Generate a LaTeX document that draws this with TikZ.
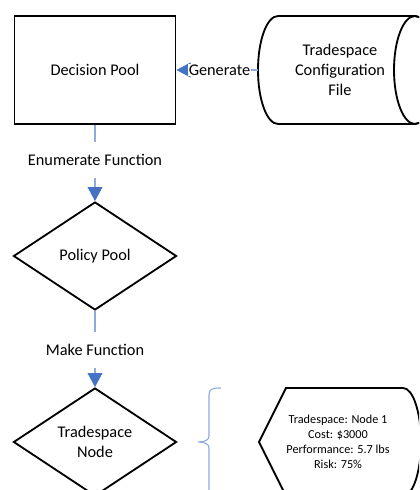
\documentclass[tikz,border=0pt]{standalone}
\usepackage{fontspec}
\setmainfont{Carlito}
\usetikzlibrary{shapes.geometric,arrows.meta}
\definecolor{linkblue}{RGB}{68,114,196}
\definecolor{lineblue}{RGB}{143,170,220}

\begin{document}
\begin{tikzpicture}
[
	x=0.025cm, y=-0.025cm,
	outline/.style = {draw=black, line width=1.3pt},
	bigtext/.style = {font=\fontsize{11.6}{14.2}\selectfont},
	pool/.style = {outline, bigtext, rectangle, minimum width=4.025cm, minimum height=2.7cm},
	choice/.style = {outline, bigtext, diamond, align=center, inner sep=0pt, minimum width=4.075cm, minimum height=2.7cm},
	func/.style = {bigtext, fill=white, minimum height=0.9cm, inner xsep=1pt},
	link/.style = {draw=lineblue, line width=0.8pt},
	linkarrow/.style = {link, -{Triangle[length=10pt,width=10.5pt,color=linkblue]}},
]
\useasboundingbox (0,0) rectangle (419,490);
\clip (0,0) rectangle (419,490);

\node[pool] (decision) at (95,70) {Decision Pool};

% configuration file drum
\draw[outline] (278,16) arc[x radius=20, y radius=54, start angle=-90, end angle=-270]
	-- (415,124) arc[x radius=21, y radius=54, start angle=90, end angle=-90] -- cycle;
\draw[outline] (415,70) ellipse[x radius=21, y radius=54];
\node[bigtext, align=center, minimum width=4.1cm] (config) at (340,70) {Tradespace\\Configuration\\File};

\node[choice] (policy) at (95,256) {Policy Pool};
\node[choice] (trade) at (95,442) {Tradespace\\Node};

\node[func] (enum) at (95,160) {Enumerate Function};
\node[func] (make) at (95,350) {Make Function};

\draw[linkarrow] (config.west) -- (decision.east)
	node[pos=0.47, bigtext, fill=white, inner sep=0.5pt] {Generate};
\draw[link] (decision) -- (enum);
\draw[linkarrow] (enum) -- (policy);
\draw[link] (policy) -- (make);
\draw[linkarrow] (make) -- (trade);

% brace and node details
\draw[link] (221,388) .. controls (212,388) and (209,389) .. (209,395) -- (209,436)
	.. controls (209,440) and (205,442) .. (198,442)
	.. controls (205,442) and (209,444) .. (209,448) -- (209,492);
\draw[outline] (259,442) -- (286,388) -- (403,388)
	arc[x radius=18, y radius=54, start angle=-90, end angle=90] -- (286,496) -- cycle;
\node[align=center, font=\fontsize{8.7}{10.7}\selectfont] (info) at (338,442)
	{Tradespace: Node 1\\Cost: \$3000\\Performance: 5.7 lbs\\Risk: 75\%};
\end{tikzpicture}
\end{document}
